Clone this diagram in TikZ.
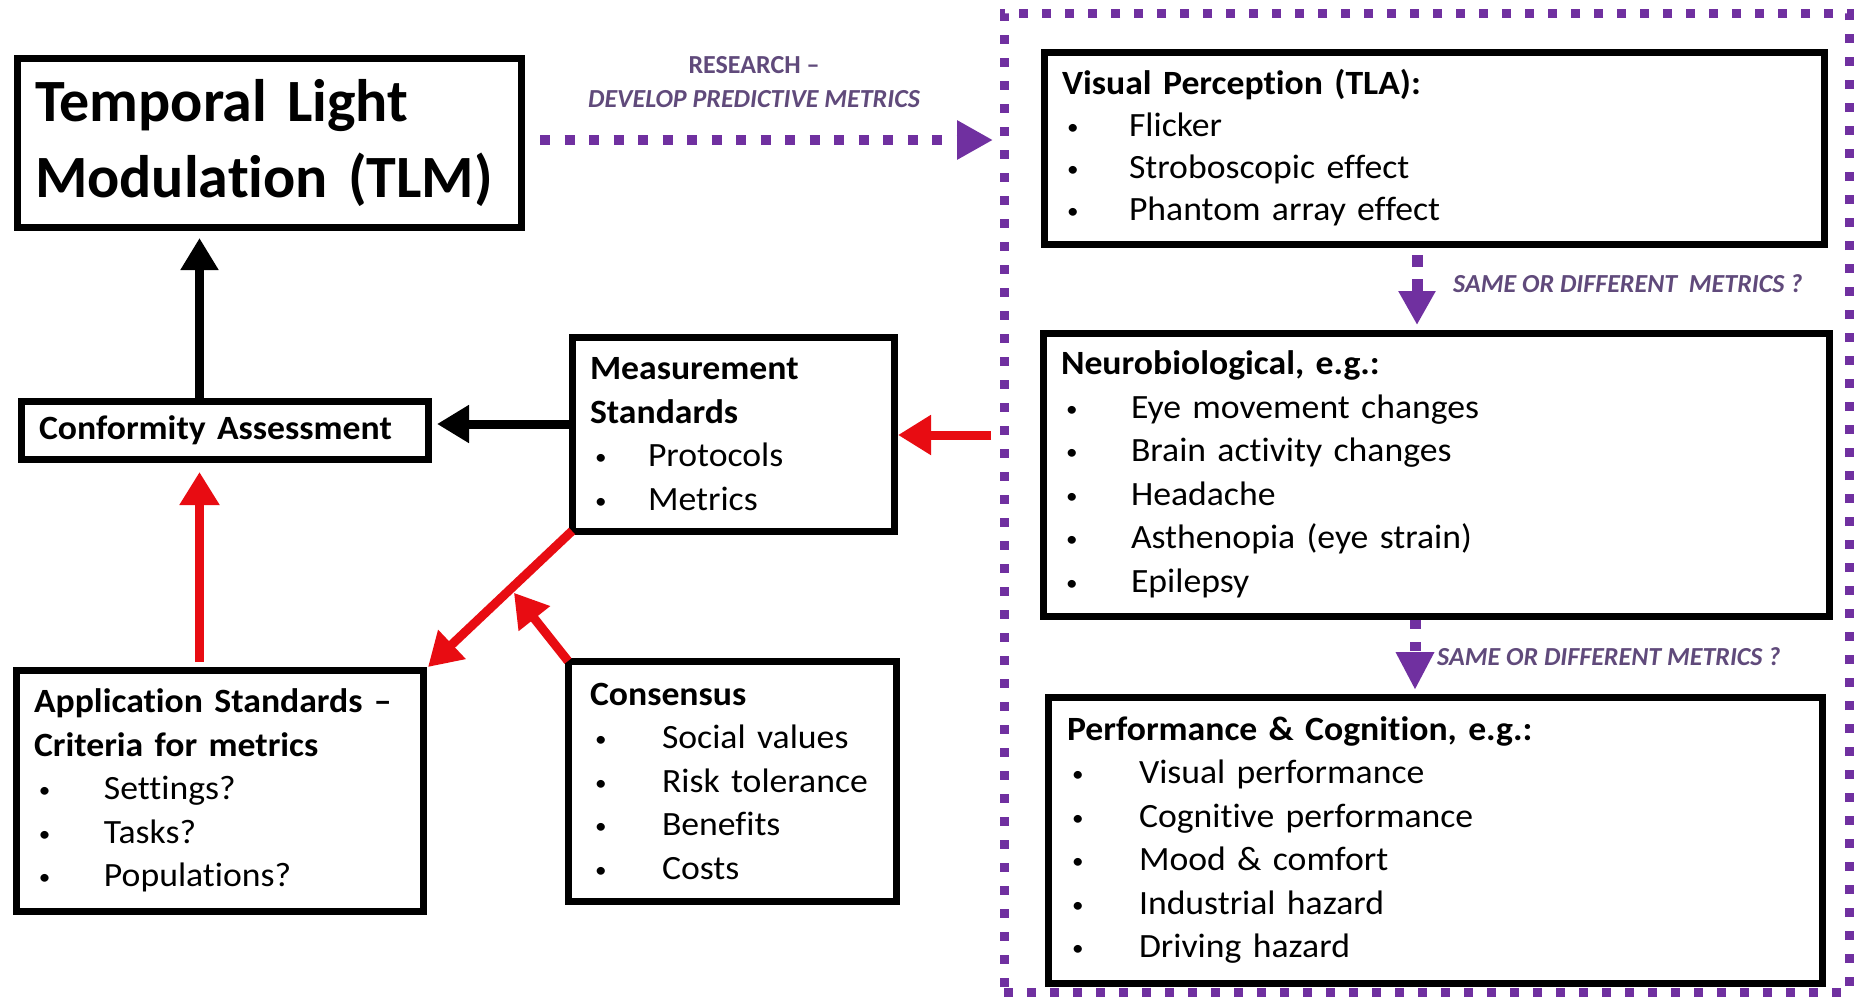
\documentclass[tikz,border=0pt]{standalone}
\usepackage{fontspec}
\setmainfont{Carlito}[FakeStretch=1.05,Ligatures=CommonOff]
\newfontfamily\plainfont{Carlito}[Ligatures=CommonOff]
\usetikzlibrary{arrows.meta,calc}
\definecolor{tlmpurple}{RGB}{112,48,160}
\definecolor{tlmlabel}{RGB}{96,74,123}
\definecolor{tlmred}{RGB}{232,12,18}
% bullet item: indent, small bullet in a fixed-width box, then the text
\newcommand{\bl}[2][65pt]{\hspace*{5pt}\makebox[#1][l]{\raisebox{2pt}{\fontsize{22}{22}\selectfont •}}\mbox{#2}}
\newcommand{\hd}[1]{\mbox{\bfseries #1}}
\begin{document}
\begin{tikzpicture}[x=1pt,y=-1pt,
  box/.style={draw=black, line width=7pt, inner xsep=18pt, inner ysep=0pt,
    outer sep=0pt, anchor=north west, align=left,
    font=\fontsize{34}{43.5}\selectfont},
  grpbox/.style={draw=tlmpurple, line width=9pt, dash pattern=on 9pt off 14pt,
    inner sep=0pt, outer sep=0pt, anchor=north west},
  pdots/.style={draw=tlmpurple, line width=10pt, dash pattern=on 10pt off 14.5pt,
    -{Triangle[length=36pt 0,width=37pt 0]}},
  pvert/.style={draw=tlmpurple, line width=11pt},
  blk/.style={draw=black, line width=9pt, -{Triangle[length=32pt 0,width=36pt 0]}},
  rd/.style={draw=tlmred, line width=9pt, -{Triangle[length=33pt 0,width=38pt 0]}},
  lbl/.style={text=tlmlabel, inner sep=0pt,
    font=\plainfont\bfseries\itshape\fontsize{26}{34}\selectfont}]
\fill[white] (0,0) rectangle (1855,1001);
\useasboundingbox (0,0) rectangle (1855,1001);

% dotted frame round the three effect boxes
\node[grpbox, minimum width=845pt, minimum height=979pt] (grp) at (1004,13) {};

% left-hand boxes
\node[box, minimum width=504pt, minimum height=169pt, text width=468pt,
  font=\plainfont\bfseries\fontsize{60}{76}\selectfont] (tlm) at (17,58)
  {Temporal Light\\Modulation (TLM)};
\node[box, minimum width=407pt, minimum height=58pt, text width=371pt] (conf) at (21,401)
  {\hd{Conformity Assessment}};
\node[box, minimum width=322pt, minimum height=194pt, text width=286pt] (meas) at (572,337)
  {\hd{Measurement}\\\hd{Standards}\\\bl[53pt]{Protocols}\\\bl[53pt]{Metrics}};
\node[box, minimum width=407pt, minimum height=241pt, text width=371pt] (app) at (16,670)
  {\hd{Application Standards –}\\\hd{Criteria for metrics}\\\bl{Settings?}\\\bl{Tasks?}\\\bl{Populations?}};
\node[box, inner xsep=22pt, minimum width=328pt, minimum height=240pt, text width=284pt] (cons) at (568,661)
  {\hd{Consensus}\\\bl[67pt]{Social values}\\\bl[67pt]{Risk tolerance}\\\bl[67pt]{Benefits}\\\bl[67pt]{Costs}};

% right-hand boxes
\node[box, minimum width=780pt, minimum height=192pt, text width=744pt,
  font=\fontsize{34}{42}\selectfont] (vp) at (1044,52)
  {\hd{Visual Perception (TLA):}\\\bl[62pt]{Flicker}\\\bl[62pt]{Stroboscopic effect}\\\bl[62pt]{Phantom array effect}};
\node[box, minimum width=786pt, minimum height=283pt, text width=750pt] (neuro) at (1043,333)
  {\hd{Neurobiological, e.g.:}\\\bl{Eye movement changes}\\\bl{Brain activity changes}\\\bl{Headache}\\\bl{Asthenopia (eye strain)}\\\bl{Epilepsy}};
\node[box, inner xsep=19pt, minimum width=774pt, minimum height=286pt, text width=736pt] (perf) at (1048,697)
  {\hd{Performance \& Cognition, e.g.:}\\\bl[67pt]{Visual performance}\\\bl[67pt]{Cognitive performance}\\\bl[67pt]{Mood \& comfort}\\\bl[67pt]{Industrial hazard}\\\bl[67pt]{Driving hazard}};

% research arrow and its label
\draw[pdots] ($(tlm.east)+(19,-2.5)$) -- ($(grp.north west)+(-11,127)$);
\node[lbl, anchor=base, font=\plainfont\bfseries\fontsize{26}{34}\selectfont] (research1) at (754,73) {RESEARCH –};
\node[lbl, anchor=base] (research2) at (754,107) {DEVELOP PREDICTIVE METRICS};

% metric questions between the effect boxes
\draw[pvert, dash pattern=on 12pt off 12pt, -{Triangle[length=34pt 0,width=35pt 0]}]
  ($(vp.south west)+(373,11)$) -- ($(neuro.north west)+(374,-8)$);
\node[lbl, anchor=base west] (same1) at (1453,292) {SAME OR DIFFERENT\ \ METRICS ?};
\draw[pvert, dash pattern=on 9pt off 13pt, -{Triangle[length=38pt 0,width=36pt 0]}]
  ($(neuro.south west)+(372,4)$) -- ($(perf.north west)+(367,-7)$);
\node[lbl, anchor=base west] (same2) at (1437,665) {SAME OR DIFFERENT METRICS ?};

% standards flow
\draw[blk] ($(meas.west)+(0,-10)$) -- ($(conf.east)+(9,-6)$);
\draw[blk] ($(conf.north west)+(178.5,0)$) -- ($(tlm.south west)+(182.5,11)$);
\draw[rd] ($(app.north west)+(183.5,-8)$) -- ($(conf.south west)+(178.5,13)$);
\draw[rd] ($(grp.north west)+(-13,422)$) -- ($(meas.east)+(4,1)$);
\draw[rd] (meas.south west) -- ($(app.north east)+(5,-3)$);
\coordinate (meet) at ($(meas.south west)!0.43!(app.north east)+(6,2)$);
\draw[rd] (cons.north west) -- (meet);
\end{tikzpicture}
\end{document}
